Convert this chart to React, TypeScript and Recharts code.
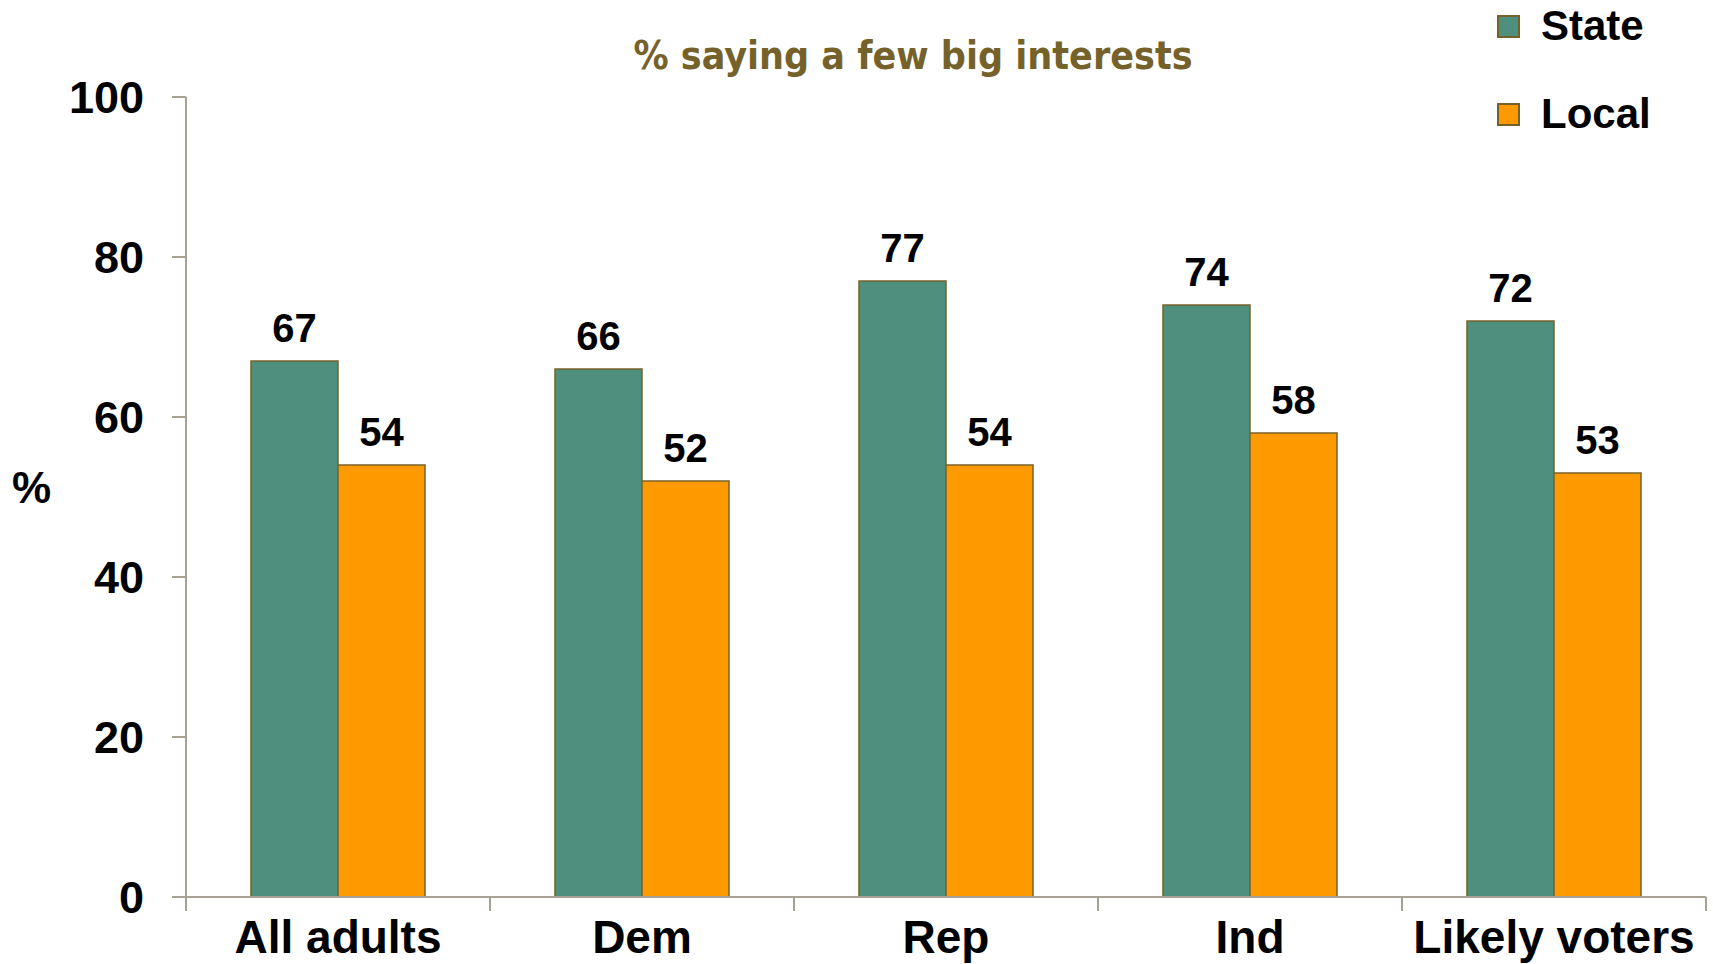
import React from "react";
import { BarChart, Bar, XAxis, YAxis, LabelList, Legend } from "recharts";

const categories = ["All adults", "Dem", "Rep", "Ind", "Likely voters"];
const stateValues = [67, 66, 77, 74, 72];
const localValues = [54, 52, 54, 58, 53];
const yTicks = [0, 20, 40, 60, 80, 100];
const seriesNames = ["State", "Local"];

const data = categories.map((c, i) => ({ name: c, State: stateValues[i], Local: localValues[i] }));

const STATE = "#4f8f7d";
const LOCAL = "#ff9900";
const EDGE = "#75622a";
const AXIS = "#a8a193";
const FONT = "'Liberation Sans', Arial, sans-serif";

const YTick = (props: any) => {
  const { y, payload } = props;
  return (
    <text x={144} y={y + 16} textAnchor="end" fontFamily={FONT} fontWeight="bold" fontSize={45} fill="#000">
      {payload.value}
    </text>
  );
};

const XTick = (props: any) => {
  const { x, payload } = props;
  const half = 152;
  return (
    <g>
      <line x1={x - half} x2={x - half} y1={897} y2={911} stroke={AXIS} strokeWidth={2} />
      <line x1={x + half} x2={x + half} y1={897} y2={911} stroke={AXIS} strokeWidth={2} />
      <text x={x} y={953} textAnchor="middle" fontFamily={FONT} fontWeight="bold" fontSize={46} fill="#000">
        {payload.value}
      </text>
    </g>
  );
};

const LegendContent = (props: any) => {
  const payload = [...(props.payload || [])].sort(
    (a: any, b: any) => seriesNames.indexOf(a.value) - seriesNames.indexOf(b.value)
  );
  const tops = [15, 103];
  return (
    <div style={{ position: "relative", width: 1713, height: 0 }}>
      {payload.map((it: any, i: number) => (
        <div key={it.value} style={{ position: "absolute", left: 1497, top: tops[i], height: 22 }}>
          <div style={{ position: "absolute", left: 0, top: 0, width: 19, height: 19, background: it.color, border: `2px solid ${EDGE}` }} />
          <div style={{ position: "absolute", left: 44, top: -15, fontFamily: FONT, fontWeight: "bold", fontSize: 42, lineHeight: "52px", color: "#000", whiteSpace: "nowrap" }}>
            {it.value}
          </div>
        </div>
      ))}
    </div>
  );
};

export default function App() {
  return (
    <div style={{ position: "absolute", left: 0, top: 0, width: 1713, height: 964, background: "#fff" }}>
      <div style={{ position: "absolute", left: 0, width: 1826, top: 31, textAlign: "center", fontFamily: "'DejaVu Sans Condensed', 'Roboto Condensed', sans-serif", fontWeight: "bold", fontSize: 39, lineHeight: "50px", color: "#75622a" }}>
        % saying a few big interests
      </div>
      <div style={{ position: "absolute", left: 12, top: 463, fontFamily: FONT, fontWeight: "bold", fontSize: 44, color: "#000" }}>%</div>
      <BarChart width={1713} height={964} data={data} margin={{ top: 97, right: 7, left: 0, bottom: 7 }} barGap={0} barSize={87}>
        <XAxis dataKey="name" height={60} stroke={AXIS} strokeWidth={2} tickLine={false} tick={<XTick />} interval={0} />
        <YAxis width={186} domain={[0, 100]} ticks={yTicks} stroke={AXIS} strokeWidth={2} tickSize={14} tick={<YTick />} tickLine={{ stroke: AXIS, strokeWidth: 2 }} />
        <Legend content={<LegendContent />} wrapperStyle={{ position: "absolute", left: 0, top: 0, width: 1713, height: 0 }} />
        <Bar dataKey="State" fill={STATE} stroke={EDGE} strokeWidth={1.5} isAnimationActive={false}>
          <LabelList dataKey="State" position="top" offset={19} fontFamily={FONT} fontWeight="bold" fontSize={40} fill="#000" />
        </Bar>
        <Bar dataKey="Local" fill={LOCAL} stroke={EDGE} strokeWidth={1.5} isAnimationActive={false}>
          <LabelList dataKey="Local" position="top" offset={19} fontFamily={FONT} fontWeight="bold" fontSize={40} fill="#000" />
        </Bar>
      </BarChart>
    </div>
  );
}
